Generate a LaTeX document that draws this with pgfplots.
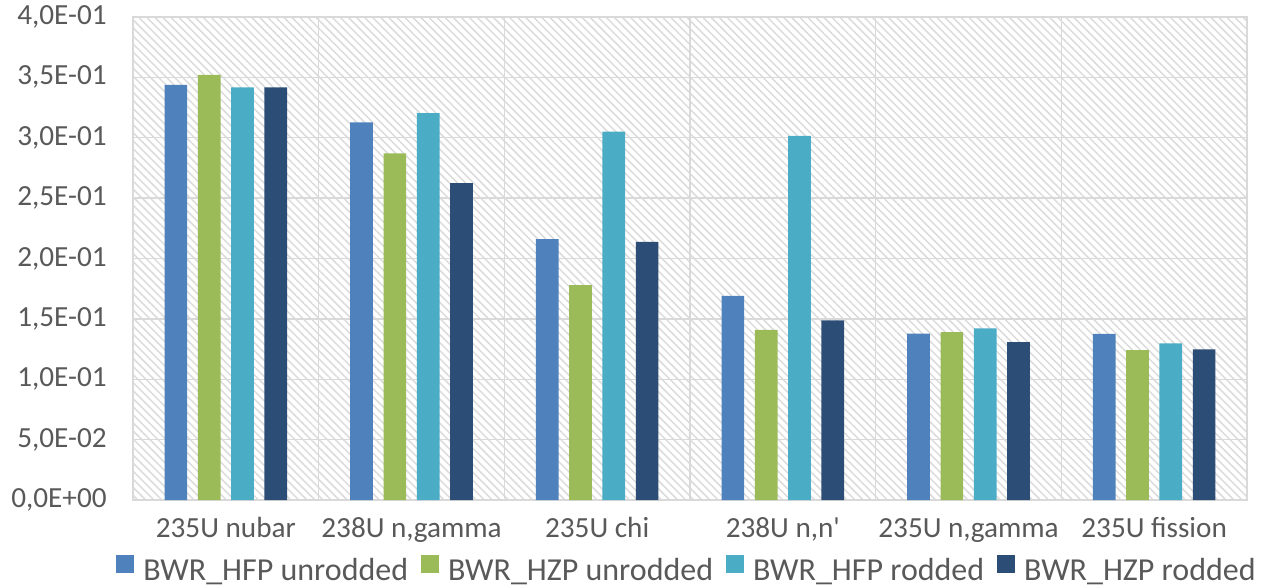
\documentclass[border=0pt]{standalone}
\usepackage{pgfplots}
\pgfplotsset{compat=1.18}
\usepackage{fontspec}
\setmainfont{Carlito}
\usetikzlibrary{patterns.meta}
\definecolor{c1}{HTML}{4F81BD}
\definecolor{c2}{HTML}{9BBB59}
\definecolor{c3}{HTML}{4BACC6}
\definecolor{c4}{HTML}{2C4D75}
\definecolor{gridgray}{HTML}{D9D9D9}
\definecolor{labgray}{HTML}{595959}
\begin{document}
\fontsize{14.6bp}{17bp}\selectfont
\begin{tikzpicture}
\begin{axis}[
  at={(0,0)}, anchor=south west,
  scale only axis, width=557bp, height=241.5bp,
  xmin=-0.5, xmax=5.5, ymin=0, ymax=0.4,
  ybar=5.3bp, bar width=11.35bp,
  xtick={0,1,2,3,4,5},
  xticklabels={235U nubar,{238U n,gamma},235U chi,{238U n,n\textquotesingle},{235U n,gamma},235U fission},
  minor xtick={0.5,1.5,2.5,3.5,4.5},
  ytick={0,0.05,0.1,0.15,0.2,0.25,0.3,0.35,0.4},
  yticklabels={{0,0E+00},{5,0E-02},{1,0E-01},{1,5E-01},{2,0E-01},{2,5E-01},{3,0E-01},{3,5E-01},{4,0E-01}},
  scaled y ticks=false,
  major tick length=0pt, minor tick length=0pt,
  ymajorgrids, xminorgrids,
  grid style={draw=gridgray, line width=0.7bp},
  minor grid style={draw=gridgray, line width=0.7bp},
  axis line style={draw=gridgray, line width=0.7bp},
  axis background/.style={pattern={Lines[angle=-45,distance=2.85bp,line width=0.75bp]}, pattern color=gray!28},
  ticklabel style={text=labgray},
  yticklabel style={inner sep=0pt, anchor=east, xshift=-13bp},
  xticklabel style={inner sep=0pt, anchor=base, yshift=-18.5bp},
  legend columns=4,
  legend style={at={(0.4964,-0.1443)}, anchor=center, draw=none, fill=none,
    inner sep=0pt, text=labgray, font=\fontsize{16bp}{19bp}\selectfont,
    nodes={inner sep=0pt},
    /tikz/every odd column/.append style={column sep=4.5bp},
    /tikz/every even column/.append style={column sep=6.5bp}},
  legend image code/.code={\fill[#1] (0bp,-0.5bp) rectangle (9bp,8.5bp);},
]
\addplot[fill=c1, draw=none] coordinates {(0,0.3437) (1,0.3128) (2,0.2160) (3,0.1690) (4,0.1378) (5,0.1375)};
\addlegendentry{BWR\_HFP unrodded}
\addplot[fill=c2, draw=none] coordinates {(0,0.3520) (1,0.2871) (2,0.1780) (3,0.1408) (4,0.1391) (5,0.1242)};
\addlegendentry{BWR\_HZP unrodded}
\addplot[fill=c3, draw=none] coordinates {(0,0.3418) (1,0.3205) (2,0.3050) (3,0.3015) (4,0.1422) (5,0.1297)};
\addlegendentry{BWR\_HFP rodded}
\addplot[fill=c4, draw=none] coordinates {(0,0.3418) (1,0.2625) (2,0.2137) (3,0.1488) (4,0.1308) (5,0.1248)};
\addlegendentry{BWR\_HZP rodded}
\end{axis}
\pgfresetboundingbox
\path[use as bounding box] (-66.5bp,-44bp) rectangle (565bp,250bp);
\end{tikzpicture}
\end{document}
